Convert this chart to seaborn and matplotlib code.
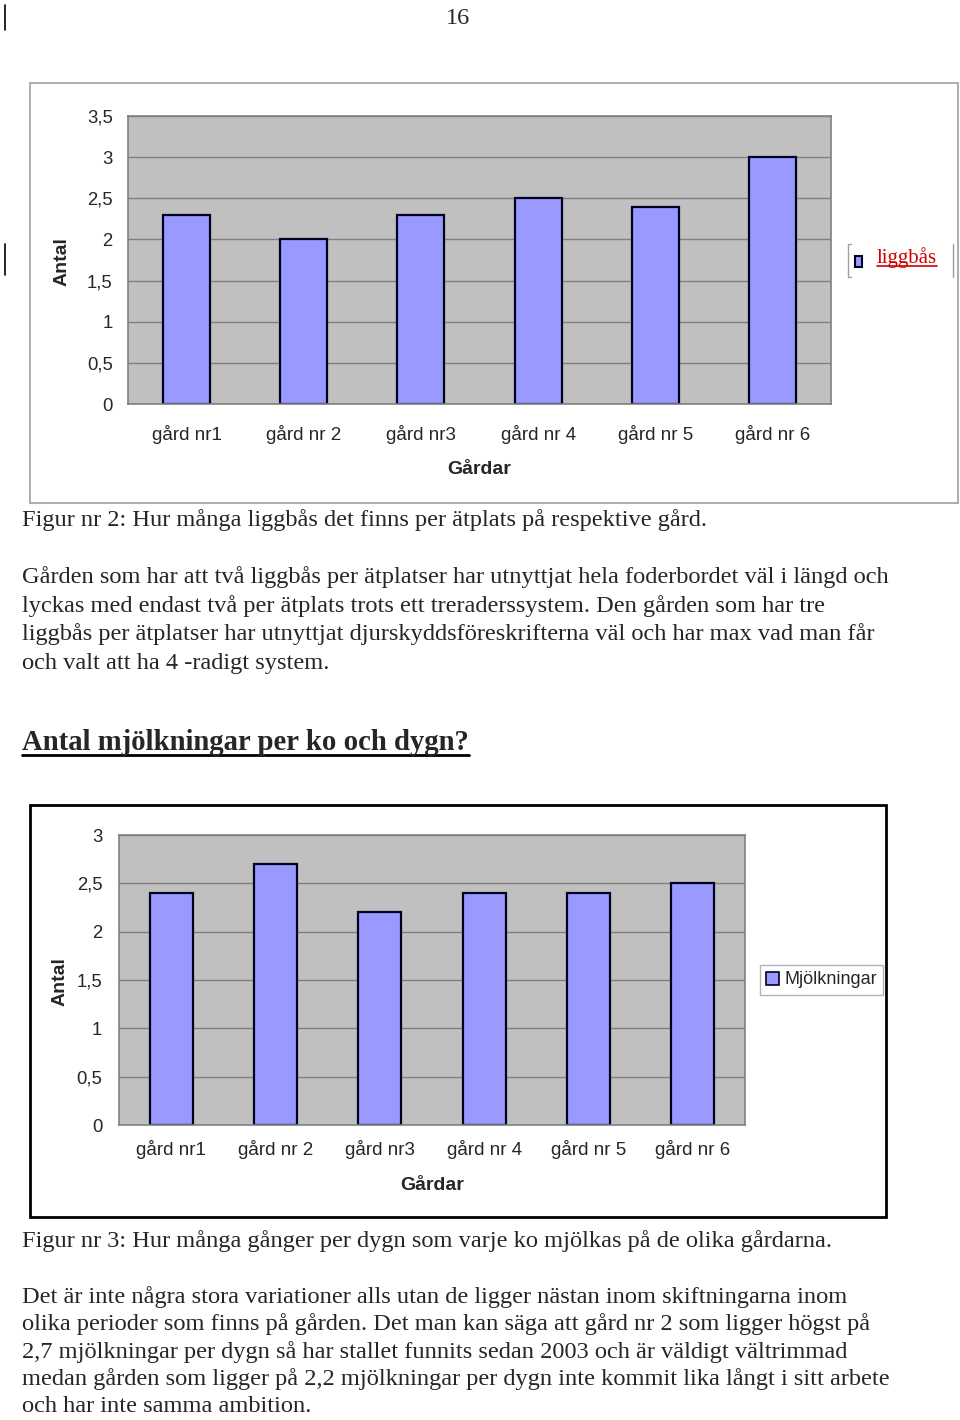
import matplotlib
matplotlib.use("Agg")
import matplotlib.pyplot as plt
import matplotlib.patches as mpatches
from matplotlib.lines import Line2D
import seaborn as sns
import pandas as pd

# ---------------- data ----------------
farms = ["gård nr1", "gård nr 2", "gård nr3", "gård nr 4", "gård nr 5", "gård nr 6"]
liggbas = [2.3, 2.0, 2.3, 2.5, 2.4, 3.0]
mjolkningar = [2.4, 2.7, 2.2, 2.4, 2.4, 2.5]
yticks1 = [0, 0.5, 1, 1.5, 2, 2.5, 3, 3.5]
ytick_labels1 = ["0", "0,5", "1", "1,5", "2", "2,5", "3", "3,5"]
yticks2 = [0, 0.5, 1, 1.5, 2, 2.5, 3]
ytick_labels2 = ["0", "0,5", "1", "1,5", "2", "2,5", "3"]

caption1 = "Figur nr 2: Hur många liggbås det finns per ätplats på respektive gård."
para1 = [
    "Gården som har att två liggbås per ätplatser har utnyttjat hela foderbordet väl i längd och",
    "lyckas med endast två per ätplats trots ett treraderssystem. Den gården som har tre",
    "liggbås per ätplatser har utnyttjat djurskyddsföreskrifterna väl och har max vad man får",
    "och valt att ha 4 -radigt system.",
]
heading = "Antal mjölkningar per ko och dygn?"
caption2 = "Figur nr 3: Hur många gånger per dygn som varje ko mjölkas på de olika gårdarna."
para2 = [
    "Det är inte några stora variationer alls utan de ligger nästan inom skiftningarna inom",
    "olika perioder som finns på gården. Det man kan säga att gård nr 2 som ligger högst på",
    "2,7 mjölkningar per dygn så har stallet funnits sedan 2003 och är väldigt vältrimmad",
    "medan gården som ligger på 2,2 mjölkningar per dygn inte kommit lika långt i sitt arbete",
    "och har inte samma ambition.",
]

df1 = pd.DataFrame({"farm": farms, "value": liggbas})
df2 = pd.DataFrame({"farm": farms, "value": mjolkningar})

# ---------------- setup ----------------
sns.set_style("white")
plt.rcParams["font.family"] = ["Liberation Sans", "DejaVu Sans"]
SERIF = ["Liberation Serif", "DejaVu Serif"]
BAR = "#9999FF"
TXT = 17.6
W, H = 960, 1420
fig = plt.figure(figsize=(W / 100, H / 100), dpi=100)


def fx(x):
    return x / W


def fy(y):
    return 1 - y / H


def ax_rect(x0, y0, x1, y1):
    return [fx(x0), fy(y1), (x1 - x0) / W, (y1 - y0) / H]


def frame(x0, y0, x1, y1, color, lw):
    fig.patches.append(mpatches.Rectangle((fx(x0), fy(y1)), (x1 - x0) / W, (y1 - y0) / H,
                                          transform=fig.transFigure, fill=False,
                                          edgecolor=color, linewidth=lw, zorder=0))


def style_axes(ax, yticks, ylabels, ymax, xpad, ypad):
    ax.set_facecolor("#C0C0C0")
    ax.set_ylim(0, ymax)
    ax.set_xlim(-0.5, len(farms) - 0.5)
    ax.set_yticks(yticks)
    ax.set_yticklabels(ylabels, fontsize=13.3)
    ax.yaxis.grid(True, color="#808080", linewidth=1)
    ax.xaxis.grid(False)
    ax.set_axisbelow(True)
    for s in ax.spines.values():
        s.set_color("#808080")
        s.set_linewidth(1.2)
    ax.tick_params(axis="x", which="major", length=0, pad=xpad, labelsize=13.5)
    ax.set_xticks([i + 0.5 for i in range(-1, len(farms))], minor=True)
    ax.tick_params(axis="x", which="minor", length=5, color="#808080", direction="out")
    ax.tick_params(axis="y", length=5, color="#808080", direction="out", pad=ypad)
    ax.set_xlabel("")
    ax.set_ylabel("")


# page number and change bars
fig.text(fx(458), fy(18), "16", family=SERIF, fontsize=17.5, ha="center", va="center")
fig.add_artist(Line2D([fx(5), fx(5)], [fy(5), fy(30)], color="black", lw=1.2))
fig.add_artist(Line2D([fx(5), fx(5)], [fy(244), fy(275)], color="black", lw=1.2))

# ---------------- chart 1 ----------------
frame(30, 83, 958, 503, "#A0A0A0", 1.2)
ax1 = fig.add_axes(ax_rect(128, 116, 831, 404))
sns.barplot(data=df1, x="farm", y="value", ax=ax1, color=BAR, edgecolor="#000020",
            linewidth=1.6, width=0.4, saturation=1)
style_axes(ax1, yticks1, ytick_labels1, 3.5, xpad=15, ypad=6)
fig.text(fx(62), fy(262), "Antal", fontsize=14, fontweight="bold", rotation=90,
         ha="center", va="center")
fig.text(fx(479), fy(469), "Gårdar", fontsize=14, fontweight="bold", ha="center", va="center")

# legend 1 (partially framed, red underlined serif text)
fig.add_artist(Line2D([fx(851), fx(848), fx(848), fx(851)], [fy(244), fy(244), fy(277), fy(277)],
                      color="#A0A0A0", lw=1))
fig.add_artist(Line2D([fx(953), fx(953)], [fy(244), fy(277)], color="#A0A0A0", lw=1))
fig.patches.append(mpatches.Rectangle((fx(855), fy(267)), 7 / W, 11 / H, transform=fig.transFigure,
                                      facecolor=BAR, edgecolor="#000020", linewidth=1.5))
t_leg = fig.text(fx(877), fy(258), "liggbås", family=SERIF, fontsize=15, color="#D00000",
                 ha="left", va="center")

# ---------------- text block 1 ----------------
fig.text(fx(22), fy(520), caption1, family=SERIF, fontsize=TXT, ha="left", va="center")
for i, line in enumerate(para1):
    fig.text(fx(22), fy(577 + i * 28.7), line, family=SERIF, fontsize=TXT, ha="left", va="center")
t_head = fig.text(fx(22), fy(743), heading, family=SERIF, fontsize=20.7, fontweight="bold",
                  ha="left", va="center")

# ---------------- chart 2 ----------------
frame(30, 805, 886, 1217, "black", 2.0)
ax2 = fig.add_axes(ax_rect(119, 835, 745, 1125))
sns.barplot(data=df2, x="farm", y="value", ax=ax2, color=BAR, edgecolor="#000020",
            linewidth=1.6, width=0.41, saturation=1)
style_axes(ax2, yticks2, ytick_labels2, 3.0, xpad=11, ypad=7)
fig.text(fx(60), fy(982), "Antal", fontsize=14, fontweight="bold", rotation=90,
         ha="center", va="center")
fig.text(fx(432), fy(1185), "Gårdar", fontsize=14, fontweight="bold", ha="center", va="center")

handle = mpatches.Patch(facecolor=BAR, edgecolor="#000020", linewidth=1.2, label="Mjölkningar")
leg2 = fig.legend(handles=[handle], loc="center left", bbox_to_anchor=(fx(760), fy(980)),
                  fontsize=13, frameon=True, fancybox=False, edgecolor="#A0A0A0",
                  handlelength=0.7, handleheight=0.7, handletextpad=0.3, borderpad=0.35,
                  borderaxespad=0)
leg2.get_frame().set_linewidth(1)

# ---------------- text block 2 ----------------
fig.text(fx(22), fy(1241), caption2, family=SERIF, fontsize=TXT, ha="left", va="center")
for i, line in enumerate(para2):
    fig.text(fx(22), fy(1297 + i * 27.3), line, family=SERIF, fontsize=TXT, ha="left", va="center")

# underlines
fig.canvas.draw()
renderer = fig.canvas.get_renderer()
for t, col, lw, off in [(t_leg, "#D00000", 1.2, 2), (t_head, "black", 2.0, 1)]:
    bb = t.get_window_extent(renderer).transformed(fig.transFigure.inverted())
    fig.add_artist(Line2D([bb.x0, bb.x1], [bb.y0 + off / H, bb.y0 + off / H], color=col, lw=lw))

fig.savefig("out.png", dpi=100)
